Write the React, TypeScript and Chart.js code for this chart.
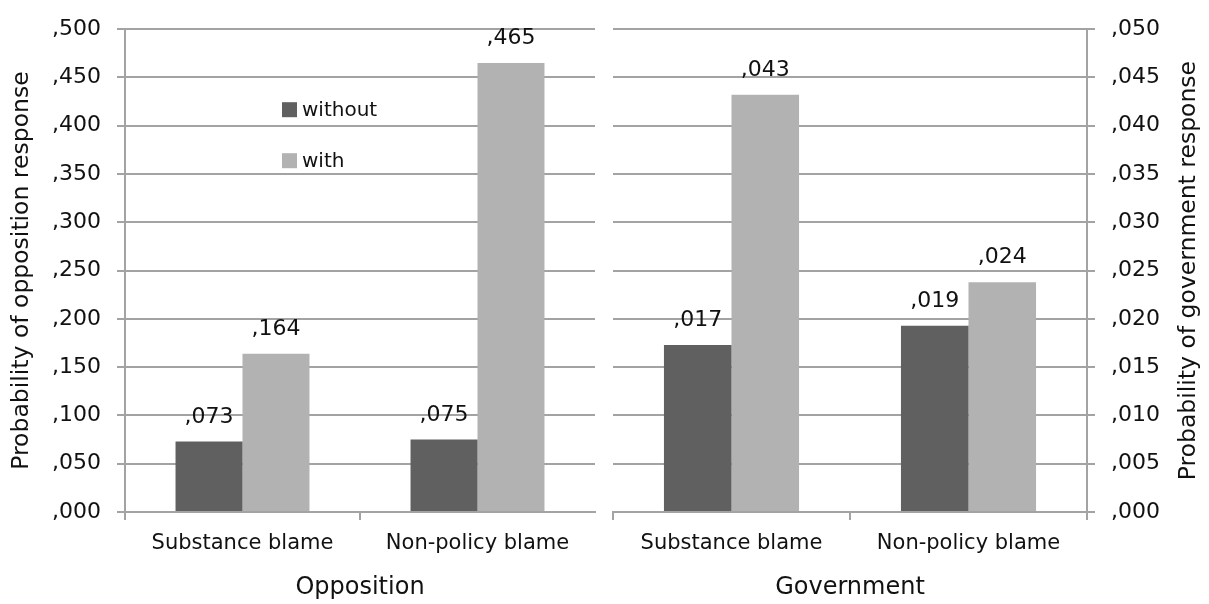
import { useEffect, useRef } from "react";
import { Chart, registerables } from "chart.js";

Chart.register(...registerables);

// Series and categories
const seriesNames = ["without", "with"];
const blameTypes = ["Substance blame", "Non-policy blame"];
const oppositionWithout = [0.073, 0.075];
const oppositionWith = [0.164, 0.465];
const governmentWithout = [0.0173, 0.0193];
const governmentWith = [0.0432, 0.0238];

// Axis ranges
const oppositionMax = 0.5;
const oppositionStep = 0.05;
const governmentMax = 0.05;
const governmentStep = 0.005;

const FONT = "'DejaVu Sans', sans-serif";
const TEXT = "#111111";
const GRID = "#a3a3a3";
const BAR_COLORS = ["#606060", "#b2b2b2"];

// ",073" style numbers: three decimals, no leading zero, comma separator
const fmt = (v: number) => Number(v).toFixed(3).replace(/^0/, "").replace(".", ",");

const valueLabels = {
  id: "valueLabels",
  afterDatasetsDraw(chart: any) {
    const ctx = chart.ctx;
    ctx.save();
    ctx.font = `22px ${FONT}`;
    ctx.fillStyle = TEXT;
    ctx.textAlign = "center";
    ctx.textBaseline = "alphabetic";
    chart.data.datasets.forEach((ds: any, di: number) => {
      const meta = chart.getDatasetMeta(di);
      meta.data.forEach((bar: any, i: number) => {
        ctx.fillText(fmt(ds.data[i]), bar.x, bar.y - 19);
      });
    });
    ctx.restore();
  },
};

const insideLegend = {
  id: "insideLegend",
  afterDraw(chart: any, _args: any, opts: any) {
    if (!opts || !opts.show) return;
    const { ctx, chartArea } = chart;
    const x0 = chartArea.left + 157;
    ctx.save();
    ctx.font = `20px ${FONT}`;
    ctx.textAlign = "left";
    ctx.textBaseline = "alphabetic";
    chart.data.datasets.forEach((ds: any, i: number) => {
      const bottom = chartArea.top + 88 + i * 51;
      ctx.fillStyle = ds.backgroundColor;
      ctx.fillRect(x0, bottom - 15, 15, 15);
      ctx.fillStyle = TEXT;
      ctx.fillText(ds.label, x0 + 20, bottom - 1);
    });
    ctx.restore();
  },
};

// Vertical title on the right side, read bottom-to-top
const sideTitle = {
  id: "sideTitle",
  afterDraw(chart: any, _args: any, opts: any) {
    if (!opts || !opts.text) return;
    const { ctx, chartArea } = chart;
    ctx.save();
    ctx.translate(chart.width - opts.inset, (chartArea.top + chartArea.bottom) / 2);
    ctx.rotate(-Math.PI / 2);
    ctx.font = `23.5px ${FONT}`;
    ctx.fillStyle = TEXT;
    ctx.textAlign = "center";
    ctx.textBaseline = "middle";
    ctx.fillText(opts.text, 0, 0);
    ctx.restore();
  },
};

type PanelSpec = {
  group: string;
  yTitle: string;
  without: number[];
  withVals: number[];
  max: number;
  step: number;
  side: "left" | "right";
  padding: { left: number; right: number; top: number; bottom: number };
  yWidth: number;
  hideLastXTick: boolean;
  legend: boolean;
};

function buildConfig(p: PanelSpec): any {
  return {
    type: "bar",
    data: {
      labels: blameTypes,
      datasets: [
        {
          label: seriesNames[0],
          data: p.without,
          backgroundColor: BAR_COLORS[0],
          borderWidth: 0,
          barPercentage: 1,
          categoryPercentage: 0.57,
        },
        {
          label: seriesNames[1],
          data: p.withVals,
          backgroundColor: BAR_COLORS[1],
          borderWidth: 0,
          barPercentage: 1,
          categoryPercentage: 0.57,
        },
      ],
    },
    options: {
      responsive: false,
      maintainAspectRatio: false,
      animation: false,
      events: [],
      layout: { padding: p.padding },
      plugins: {
        legend: { display: false },
        tooltip: { enabled: false },
        insideLegend: { show: p.legend },
        sideTitle: p.side === "right" ? { text: p.yTitle, inset: 20 } : { text: "" },
      },
      scales: {
        x: {
          type: "category",
          offset: true,
          grid: {
            offset: true,
            drawOnChartArea: false,
            drawTicks: true,
            tickLength: 8,
            color: GRID,
            lineWidth: 2,
            tickColor: (c: any) =>
              p.hideLastXTick && c.type !== "tick" ? "rgba(0,0,0,0)" : GRID,
          },
          border: { display: true, color: GRID, width: 2 },
          ticks: {
            color: TEXT,
            font: { family: FONT, size: 21 },
            padding: 11,
            maxRotation: 0,
            autoSkip: false,
          },
          title: {
            display: true,
            text: p.group,
            color: TEXT,
            font: { family: FONT, size: 24 },
            padding: { top: 0, bottom: 2 },
          },
          afterFit: (s: any) => {
            s.height = 92;
          },
        },
        y: {
          position: p.side,
          min: 0,
          max: p.max,
          ticks: {
            stepSize: p.step,
            color: TEXT,
            font: { family: FONT, size: 22 },
            padding: 16,
            callback: (v: any) => fmt(Number(v)),
          },
          grid: { color: GRID, lineWidth: 2, tickLength: 8, drawTicks: true },
          border: { display: true, color: GRID, width: 2 },
          title: {
            display: p.side === "left",
            text: p.yTitle,
            color: TEXT,
            font: { family: FONT, size: 23.5 },
            padding: { top: 8, bottom: 0 },
          },
          afterFit: (s: any) => {
            s.width = p.yWidth;
          },
        },
      },
    },
    plugins: [valueLabels, insideLegend, sideTitle],
  };
}

const oppositionPanel: PanelSpec = {
  group: "Opposition",
  yTitle: "Probability of opposition response",
  without: oppositionWithout,
  withVals: oppositionWith,
  max: oppositionMax,
  step: oppositionStep,
  side: "left",
  padding: { left: 0, right: 5, top: 27, bottom: 0 },
  yWidth: 125,
  hideLastXTick: true,
  legend: true,
};

const governmentPanel: PanelSpec = {
  group: "Government",
  yTitle: "Probability of government response",
  without: governmentWithout,
  withVals: governmentWith,
  max: governmentMax,
  step: governmentStep,
  side: "right",
  padding: { left: 13, right: 0, top: 27, bottom: 0 },
  yWidth: 122,
  hideLastXTick: false,
  legend: false,
};

export default function App() {
  const leftRef = useRef<HTMLCanvasElement | null>(null);
  const rightRef = useRef<HTMLCanvasElement | null>(null);

  useEffect(() => {
    const charts: Chart[] = [];
    if (leftRef.current) charts.push(new Chart(leftRef.current, buildConfig(oppositionPanel)));
    if (rightRef.current) charts.push(new Chart(rightRef.current, buildConfig(governmentPanel)));
    return () => charts.forEach((c) => c.destroy());
  }, []);

  return (
    <div
      style={{
        position: "fixed",
        left: 0,
        top: 0,
        width: 1209,
        height: 604,
        background: "#ffffff",
        overflow: "hidden",
      }}
    >
      <canvas
        ref={leftRef}
        width={600}
        height={604}
        style={{ position: "absolute", left: 0, top: 0, width: 600, height: 604 }}
      />
      <canvas
        ref={rightRef}
        width={609}
        height={604}
        style={{ position: "absolute", left: 600, top: 0, width: 609, height: 604 }}
      />
    </div>
  );
}
